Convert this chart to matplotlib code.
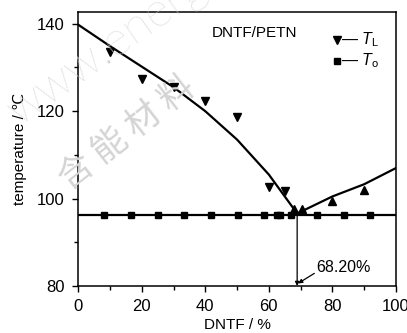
import matplotlib
matplotlib.use('Agg')
import matplotlib.pyplot as plt
from matplotlib.ticker import MultipleLocator

plt.rcParams['font.family'] = ['Liberation Sans', 'DejaVu Sans']
plt.rcParams['mathtext.fontset'] = 'custom'
plt.rcParams['mathtext.it'] = 'Liberation Sans:italic'
plt.rcParams['mathtext.rm'] = 'Liberation Sans'

# liquidus points, DNTF-rich side (down triangles) and PETN side (up triangles)
tl_x = [10, 20, 30, 40, 50, 60, 65]
tl_y = [133.6, 127.4, 125.6, 122.4, 118.7, 102.7, 101.8]
tl2_x = [68, 70.4, 80, 90]
tl2_y = [97.7, 97.7, 99.5, 102.0]

# eutectic points
to_x = [8.2, 16.7, 25, 33.3, 41.8, 50.2, 58.5, 62.5, 63.5, 66.9, 75.3, 83.5, 91.8]
to_y = [96.2] * len(to_x)

# fitted curves
fit_left_x = [0, 10, 20, 30, 40, 50, 60, 68.9]
fit_left_y = [139.8, 134.9, 130.2, 125.5, 120.0, 113.5, 105.5, 96.6]
fit_right_x = [68.9, 80, 90, 100]
fit_right_y = [96.6, 100.5, 103.3, 107.0]
eutectic_T = 96.2
eutectic_x = 68.9

fig = plt.figure(figsize=(4.07, 3.33), dpi=100)
ax = fig.add_axes([0.192, 0.141, 0.781, 0.823])

# watermark
fig.text(0.0, 0.6, 'www.energetic-materials.org.cn', rotation=35, fontsize=34,
         color='#d4d4d4', family='Lato', fontweight='light', zorder=0,
         ha='left', va='bottom')
fig.text(0.13, 0.41, '含 能 材 料', rotation=38, fontsize=25, color='#d4d4d4',
         family=['Noto Sans CJK SC'], fontweight='light', zorder=0,
         ha='left', va='bottom')
ax.patch.set_alpha(0)

ax.plot(fit_left_x, fit_left_y, color='black', lw=1.6, zorder=3)
ax.plot(fit_right_x, fit_right_y, color='black', lw=1.6, zorder=3)
ax.axhline(eutectic_T, color='black', lw=1.6, zorder=3)
ax.plot(tl_x, tl_y, 'v', color='black', ms=6, zorder=4, ls='none')
ax.plot(tl2_x, tl2_y, '^', color='black', ms=6, zorder=4, ls='none')
ax.plot(to_x, to_y, 's', color='black', ms=5, zorder=4, ls='none')

# eutectic composition marker
ax.annotate('', xy=(eutectic_x, 80), xytext=(eutectic_x, eutectic_T),
            arrowprops=dict(arrowstyle='-|>', color='black', lw=0.9,
                            mutation_scale=6, shrinkA=0, shrinkB=0))
ax.annotate('', xy=(eutectic_x + 0.3, 80.6), xytext=(74.3, 82.9),
            arrowprops=dict(arrowstyle='-|>', color='black', lw=0.9,
                            mutation_scale=6, shrinkA=0, shrinkB=0))
ax.text(75, 84.2, '68.20%', fontsize=11.5, va='center', ha='left')

ax.text(42, 137.9, 'DNTF/PETN', fontsize=11, va='center', ha='left')

# hand-made legend
ax.plot([81.5], [136.3], 'v', color='black', ms=6, clip_on=False)
ax.text(82.8, 136.3, '— $T_{\\mathrm{L}}$', fontsize=11.5, va='center', ha='left')
ax.plot([81.5], [131.5], 's', color='black', ms=5, clip_on=False)
ax.text(82.8, 131.5, '— $T_{\\mathrm{o}}$', fontsize=11.5, va='center', ha='left')

ax.set_xlim(0, 100)
ax.set_ylim(80, 142.7)
ax.xaxis.set_major_locator(MultipleLocator(20))
ax.xaxis.set_minor_locator(MultipleLocator(10))
ax.yaxis.set_major_locator(MultipleLocator(20))
ax.yaxis.set_minor_locator(MultipleLocator(10))
ax.tick_params(which='major', direction='out', length=4, width=1, labelsize=12)
ax.tick_params(axis='x', which='major', pad=5)
ax.tick_params(axis='y', which='major', pad=6)
ax.tick_params(which='minor', direction='out', length=3, width=1)
for s in ax.spines.values():
    s.set_linewidth(1.1)

ax.set_xlabel('DNTF / %', fontsize=11, labelpad=3)
ax.set_ylabel('temperature / ℃', fontsize=11, labelpad=7)

plt.savefig('out.png', dpi=100)
